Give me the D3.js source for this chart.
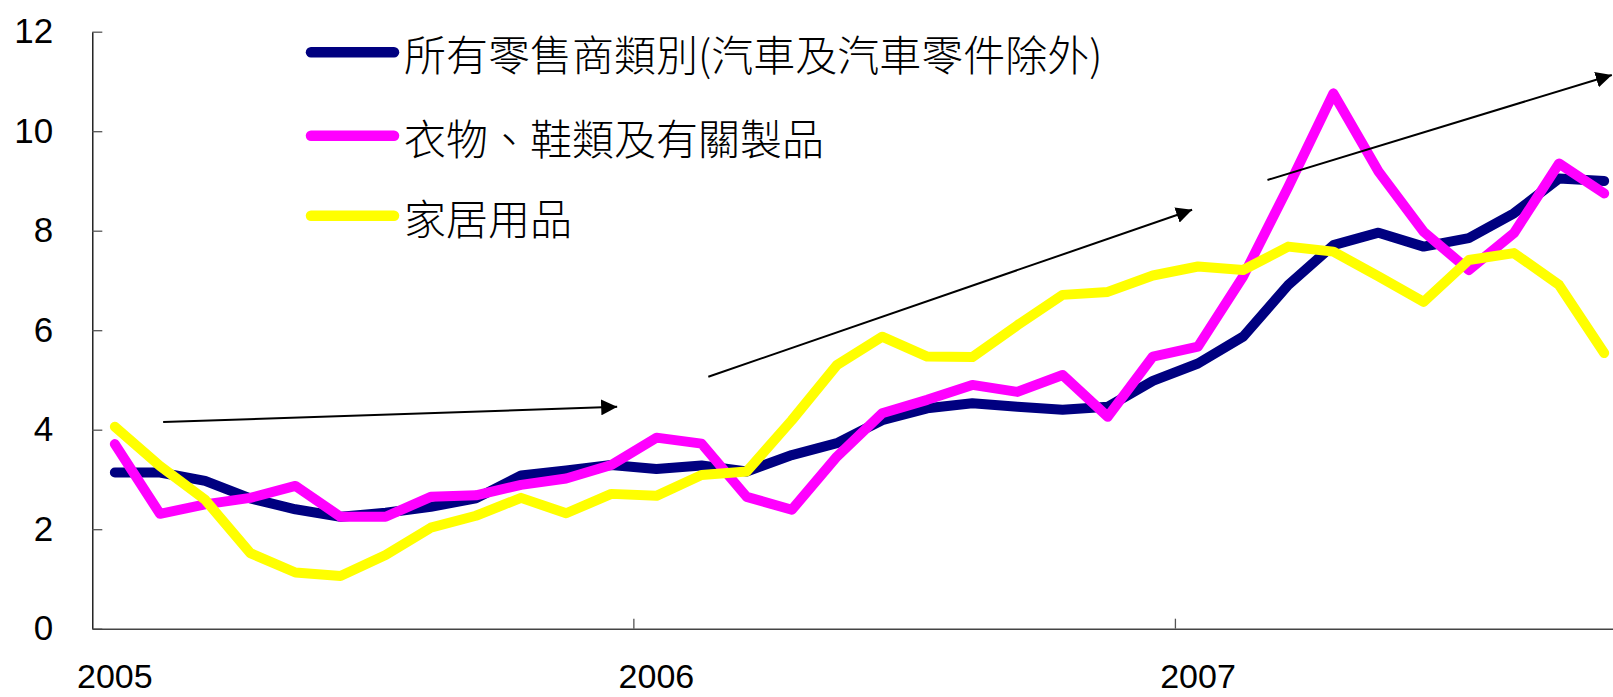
<!DOCTYPE html>
<html>
<head>
<meta charset="utf-8">
<script src="https://cdn.jsdelivr.net/npm/d3@7"></script>
<style>
    body { margin: 0; background: #fff; overflow: hidden; }
    #chart svg { display: block; }
</style>
</head>
<body>
<div id="chart"></div>
<script>
// Monthly categories, Jan 2005 - Oct 2007
var months = ["2005-01","2005-02","2005-03","2005-04","2005-05","2005-06","2005-07","2005-08","2005-09","2005-10","2005-11","2005-12",
    "2006-01","2006-02","2006-03","2006-04","2006-05","2006-06","2006-07","2006-08","2006-09","2006-10","2006-11","2006-12",
    "2007-01","2007-02","2007-03","2007-04","2007-05","2007-06","2007-07","2007-08","2007-09","2007-10"];

var yearLabels = ["2005", "2006", "2007"];
var yearStarts = ["2005-01", "2006-01", "2007-01"];
var yTicks = [0, 2, 4, 6, 8, 10, 12];

var seriesNames = ["所有零售商類別(汽車及汽車零件除外)", "衣物、鞋類及有關製品", "家居用品"];
var seriesColors = ["#000080", "#ff00ff", "#ffff00"];

var allRetail = [3.14, 3.14, 2.97, 2.62, 2.40, 2.25, 2.33, 2.45, 2.62, 3.08, 3.18, 3.29,
    3.21, 3.28, 3.16, 3.49, 3.73, 4.19, 4.43, 4.53, 4.46, 4.40, 4.46, 4.98,
    5.33, 5.87, 6.91, 7.71, 7.96, 7.68, 7.85, 8.35, 9.05, 9.00];

var apparel = [3.71, 2.31, 2.50, 2.63, 2.87, 2.25, 2.25, 2.65, 2.68, 2.89, 3.02, 3.29,
    3.84, 3.72, 2.65, 2.39, 3.46, 4.33, 4.60, 4.90, 4.76, 5.10, 4.26, 5.47,
    5.67, 7.08, 8.88, 10.76, 9.19, 7.98, 7.21, 7.95, 9.35, 8.75];

var household = [4.06, 3.27, 2.59, 1.52, 1.13, 1.06, 1.48, 2.03, 2.27, 2.63, 2.32, 2.71,
    2.67, 3.09, 3.16, 4.19, 5.30, 5.87, 5.47, 5.46, 6.10, 6.71, 6.77, 7.10,
    7.28, 7.21, 7.68, 7.58, 7.08, 6.57, 7.41, 7.55, 6.91, 5.54];

// Trend arrows, in (month index, value) units
var arrowStartIdx = [1.07, 13.15, 25.54];
var arrowStartVal = [4.155, 5.065, 9.02];
var arrowEndIdx = [11.13, 23.87, 33.17];
var arrowEndVal = [4.46, 8.42, 11.13];

var width = 1613, height = 697;
var margin = { top: 31.7, left: 92.3, bottom: 697 - 628.7 };
var bandW = 45.13;

var svg = d3.select("#chart").append("svg")
    .attr("width", width)
    .attr("height", height);

// Scales (plot area runs past the right edge of the picture)
var x = d3.scaleBand()
    .domain(months)
    .range([margin.left, margin.left + bandW * months.length]);

var y = d3.scaleLinear()
    .domain([0, 12])
    .range([height - margin.bottom, margin.top]);

var xIdx = function (i) { return x(months[0]) + x.bandwidth() * (i + 0.5); };

// Y axis
var yAxis = d3.axisLeft(y)
    .tickValues(yTicks)
    .tickSizeInner(-10)
    .tickSizeOuter(0)
    .tickPadding(39);

var gy = svg.append("g")
    .attr("class", "y_axis")
    .attr("transform", "translate(" + margin.left + ",0)")
    .call(yAxis);

gy.select(".domain").attr("stroke", "#000").attr("stroke-width", 1.3);
gy.selectAll(".tick line").attr("stroke", "#555").attr("stroke-width", 1.3);
gy.selectAll(".tick text")
    .style("font-family", "'Liberation Sans', Arial, sans-serif")
    .style("font-size", "35px")
    .attr("fill", "#000");

// X axis: labels on January, tick marks on the year boundaries
var xAxis = d3.axisBottom(x)
    .tickValues(yearStarts)
    .tickFormat(function (d, i) { return yearLabels[i]; })
    .tickSizeInner(0)
    .tickSizeOuter(0)
    .tickPadding(35);

var gx = svg.append("g")
    .attr("class", "x_axis")
    .attr("transform", "translate(0," + y(0) + ")")
    .call(xAxis);

gx.select(".domain").attr("stroke", "#444").attr("stroke-width", 1.5);
gx.selectAll(".tick text")
    .style("font-family", "'Liberation Sans', Arial, sans-serif")
    .style("font-size", "34px")
    .attr("fill", "#000");

svg.selectAll(".year_tick")
    .data(yearStarts.slice(1))
    .enter().append("line")
    .attr("class", "year_tick")
    .attr("x1", function (d) { return x(d); })
    .attr("x2", function (d) { return x(d); })
    .attr("y1", y(0))
    .attr("y2", y(0) - 10)
    .attr("stroke", "#555")
    .attr("stroke-width", 1.3);

// Lines
var line = d3.line()
    .x(function (d, i) { return x(months[i]) + x.bandwidth() / 2; })
    .y(function (d) { return y(d); });

var allSeries = [allRetail, apparel, household];

svg.selectAll(".series_line")
    .data(allSeries)
    .enter().append("path")
    .attr("class", "series_line")
    .attr("d", line)
    .attr("fill", "none")
    .attr("stroke", function (d, i) { return seriesColors[i]; })
    .attr("stroke-width", 10)
    .attr("stroke-linejoin", "round")
    .attr("stroke-linecap", "round");

// Arrow heads
svg.append("defs").append("marker")
    .attr("id", "arrowhead")
    .attr("markerUnits", "userSpaceOnUse")
    .attr("viewBox", "0 0 16 16")
    .attr("refX", 16)
    .attr("refY", 8)
    .attr("markerWidth", 16)
    .attr("markerHeight", 16)
    .attr("orient", "auto")
    .append("path")
    .attr("d", "M0,0 L16,8 L0,16 Z")
    .attr("fill", "#000");

svg.selectAll(".trend_arrow")
    .data(arrowStartIdx)
    .enter().append("line")
    .attr("class", "trend_arrow")
    .attr("x1", function (d) { return xIdx(d); })
    .attr("y1", function (d, i) { return y(arrowStartVal[i]); })
    .attr("x2", function (d, i) { return xIdx(arrowEndIdx[i]); })
    .attr("y2", function (d, i) { return y(arrowEndVal[i]); })
    .attr("stroke", "#000")
    .attr("stroke-width", 2)
    .attr("marker-end", "url(#arrowhead)");

// Legend
var legendRows = [52.3, 135.7, 215.7];

var legend = svg.selectAll(".legend_item")
    .data(seriesNames)
    .enter().append("g")
    .attr("class", "legend_item")
    .attr("transform", function (d, i) { return "translate(0," + legendRows[i] + ")"; });

legend.append("line")
    .attr("x1", 311)
    .attr("x2", 394)
    .attr("stroke", function (d, i) { return seriesColors[i]; })
    .attr("stroke-width", 10.5)
    .attr("stroke-linecap", "round");

legend.append("text")
    .attr("x", 404)
    .attr("y", 19)
    .style("font-family", "'Noto Sans CJK TC', 'Noto Sans CJK SC', sans-serif")
    .style("font-size", "42px")
    .style("font-weight", 300)
    .attr("fill", "#000")
    .text(function (d) { return d; });
</script>
</body>
</html>
